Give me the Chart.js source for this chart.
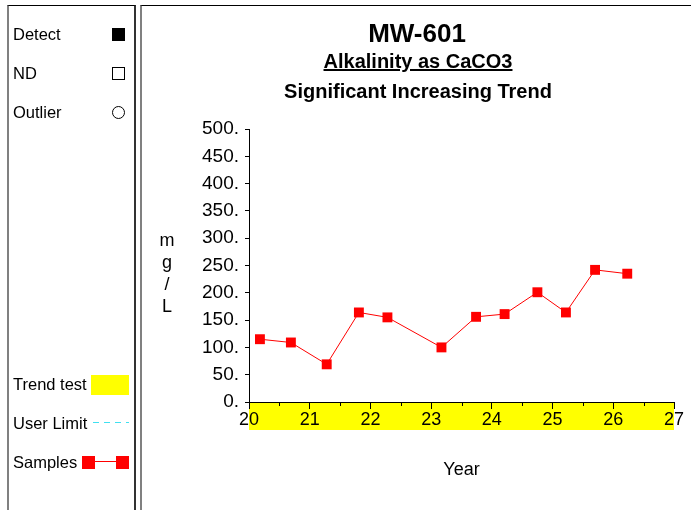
<!DOCTYPE html>
<html>
<head>
<meta charset="utf-8">
<script src="https://cdn.jsdelivr.net/npm/chart.js@4/dist/chart.umd.min.js"></script>
<style>
body{margin:0;width:691px;height:510px;overflow:hidden;background:#fff;font-family:Arial,"Liberation Sans",sans-serif;position:relative;color:#000}
#chart{position:absolute;left:0;top:0}
.panel{position:absolute;top:5px;height:520px;box-sizing:border-box;border-top:1px solid #000}
#legendPanel{left:7px;width:129px;border-left:2px solid #808080;border-right:2px solid #333}
#plotPanel{left:140px;width:570px;border-left:2px solid #808080}
.t{position:absolute;white-space:nowrap;line-height:1;transform:translateY(-50%)}
.c{position:absolute;white-space:nowrap;line-height:1;transform:translate(-50%,-50%)}
.lg{font-size:16.5px;left:13px}
.sw{position:absolute;box-sizing:border-box}
</style>
</head>
<body>
<canvas id="chart" width="691" height="510"></canvas>
<div class="panel" id="legendPanel"></div>
<div class="panel" id="plotPanel"></div>

<!-- legend -->
<div class="t lg" style="top:34px">Detect</div>
<div class="sw" style="left:112px;top:28px;width:13px;height:13px;background:#000"></div>
<div class="t lg" style="top:73px">ND</div>
<div class="sw" style="left:112px;top:67px;width:13px;height:13px;border:1px solid #000"></div>
<div class="t lg" style="top:112px">Outlier</div>
<div class="sw" style="left:112px;top:106px;width:13px;height:13px;border:1px solid #000;border-radius:50%"></div>
<div class="t lg" style="top:384px">Trend test</div>
<div class="sw" style="left:91px;top:375px;width:38px;height:20px;background:#ffff00"></div>
<div class="t lg" style="top:423px">User Limit</div>
<div class="sw" style="left:93px;top:422px;width:36px;height:1px;background:repeating-linear-gradient(90deg,#40e0f0 0 6px,transparent 6px 11px)"></div>
<div class="t lg" style="top:462px">Samples</div>
<div class="sw" style="left:90px;top:461px;width:30px;height:1px;background:#ff0000"></div>
<div class="sw" style="left:82px;top:456px;width:13px;height:13px;background:#ff0000"></div>
<div class="sw" style="left:116px;top:456px;width:13px;height:13px;background:#ff0000"></div>

<!-- titles -->
<div class="c" style="left:417px;top:33px;font-size:26px;font-weight:bold">MW-601</div>
<div class="c" style="left:418px;top:61px;font-size:20px;font-weight:bold;text-decoration:underline">Alkalinity as CaCO3</div>
<div class="c" style="left:418px;top:91px;font-size:20px;font-weight:bold">Significant Increasing Trend</div>

<!-- y axis title -->
<div class="c" style="left:167px;top:240px;font-size:18px">m</div>
<div class="c" style="left:167px;top:262px;font-size:18px">g</div>
<div class="c" style="left:167px;top:284px;font-size:18px">/</div>
<div class="c" style="left:167px;top:306px;font-size:18px">L</div>

<script>
// valeurs
const years = [20.18, 20.69, 21.28, 21.81, 22.28, 23.17, 23.74, 24.21, 24.75, 25.22, 25.70, 26.23];
const alkalinity = [115, 109, 69, 164, 155, 100, 156, 161, 201, 164, 242, 235];

const xMin = 20, xMax = 27, xStep = 1;
const yMin = 0, yMax = 500, yStep = 50;

const FONT = "Arial, 'Liberation Sans', sans-serif";

// bande jaune "Trend test" sous l'axe des x
const trendBand = {
    id: "trendBand",
    beforeDraw(chart){
        const a = chart.chartArea;
        const ctx = chart.ctx;
        ctx.save();
        ctx.fillStyle = "#ffff00";
        ctx.fillRect(a.left, a.bottom, a.right - a.left, 28);
        ctx.restore();
    }
};

// petites graduations entre les années
const minorTicks = {
    id: "minorTicks",
    afterDraw(chart){
        const x = chart.scales.x;
        const ctx = chart.ctx;
        ctx.save();
        ctx.strokeStyle = "#000";
        ctx.lineWidth = 1;
        for (let v = xMin + 0.5; v < xMax; v += 1) {
            const px = Math.round(x.getPixelForValue(v)) + 0.5;
            ctx.beginPath();
            ctx.moveTo(px, chart.chartArea.bottom);
            ctx.lineTo(px, chart.chartArea.bottom + 4);
            ctx.stroke();
        }
        ctx.restore();
    }
};

new Chart(document.getElementById("chart"), {
    type: "scatter",
    data: {
        datasets: [{
            data: years.map((x, i) => ({x: x, y: alkalinity[i]})),
            showLine: true,
            borderColor: "#ff0000",
            borderWidth: 1,
            backgroundColor: "#ff0000",
            pointStyle: "rect",
            pointRadius: 7,
            pointHoverRadius: 7,
            pointBorderWidth: 0
        }]
    },
    options: {
        responsive: false,
        animation: false,
        events: [],
        layout: { padding: { left: 0, top: 129, right: 17, bottom: 0 } },
        plugins: {
            legend: { display: false },
            tooltip: { enabled: false }
        },
        scales: {
            x: {
                type: "linear",
                min: xMin, max: xMax,
                ticks: { stepSize: xStep, color: "#000", font: { size: 18, family: FONT }, padding: 0, maxRotation: 0 },
                grid: { drawOnChartArea: false, tickLength: 7, tickColor: "#000" },
                border: { color: "#000" },
                title: { display: true, text: "Year", color: "#000", font: { size: 18, family: FONT }, padding: { top: 0, bottom: 29 } },
                afterFit: s => { s.height = 108; }
            },
            y: {
                min: yMin, max: yMax,
                ticks: { stepSize: yStep, color: "#000", font: { size: 19, family: FONT }, padding: 6, callback: v => v + "." },
                grid: { drawOnChartArea: false, tickLength: 4, tickColor: "#000" },
                border: { color: "#000" },
                afterFit: s => { s.width = 249; }
            }
        }
    },
    plugins: [trendBand, minorTicks]
});
</script>
</body>
</html>
